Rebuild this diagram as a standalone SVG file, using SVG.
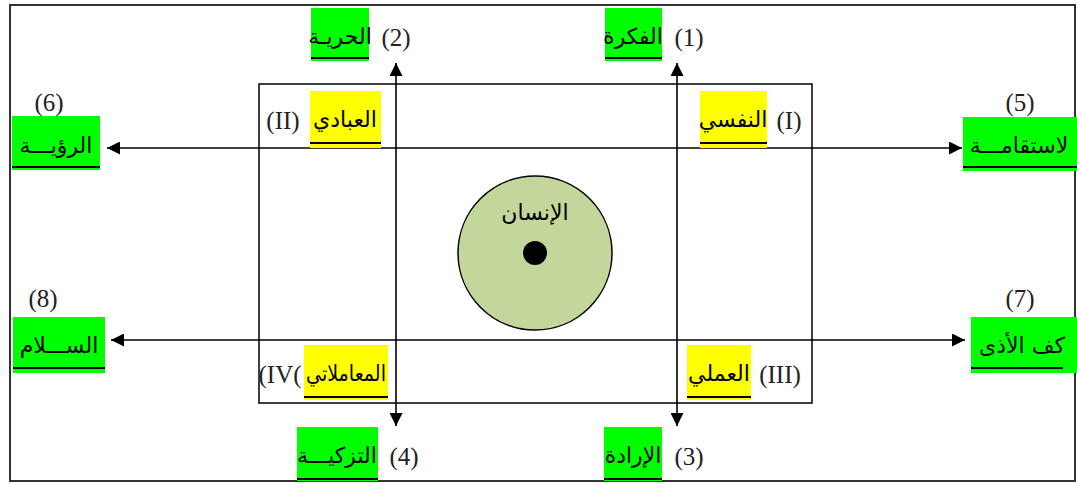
<svg xmlns="http://www.w3.org/2000/svg" width="1077" height="484" viewBox="0 0 1077 484">
  <style>
    .frame { fill: #ffffff; stroke: #333333; stroke-width: 2; }
    .inner { fill: none; stroke: #000000; stroke-width: 1.5; }
    .axis { stroke: #000000; stroke-width: 1.6; fill: none; }
    .green { fill: #00ff00; }
    .yellow { fill: #ffff00; }
    .ul { stroke: #000000; stroke-width: 2.2; }
    .ar { font-family: "DejaVu Sans", "Noto Sans", sans-serif; font-size: 22px; fill: #000000; text-anchor: middle; }
    .num { font-family: "Liberation Serif", serif; font-size: 25px; fill: #222222; text-anchor: middle; }
  </style>
  <defs>
    <marker id="head" viewBox="0 0 10 10" refX="10" refY="5" markerWidth="14" markerHeight="13" markerUnits="userSpaceOnUse" orient="auto-start-reverse">
      <path d="M0,0 L10,5 L0,10 Z" fill="#000000"/>
    </marker>
  </defs>

  <!-- outer frame -->
  <rect class="frame" x="10" y="5" width="1065" height="476"/>

  <!-- central quadrant box -->
  <rect id="quadrants" class="inner" x="259" y="84" width="553" height="319"/>

  <!-- centre: the human being -->
  <g id="center">
    <circle cx="535" cy="253" r="77" fill="#c3d69b" stroke="#000000" stroke-width="1.5"/>
    <circle cx="535" cy="253" r="12" fill="#000000"/>
    <text class="ar" x="535" y="220" font-size="23">الإنسان</text>
  </g>

  <!-- connectors -->
  <g id="connectors">
    <line class="axis" x1="396" y1="426" x2="396" y2="63" marker-start="url(#head)" marker-end="url(#head)"/>
    <line class="axis" x1="677" y1="426" x2="677" y2="63" marker-start="url(#head)" marker-end="url(#head)"/>
    <line class="axis" x1="107" y1="148" x2="962" y2="148" marker-start="url(#head)" marker-end="url(#head)"/>
    <line class="axis" x1="111" y1="340" x2="965" y2="340" marker-start="url(#head)" marker-end="url(#head)"/>
  </g>

  <!-- quadrant labels -->
  <g id="q1">
    <rect class="yellow" x="700" y="91" width="67" height="57"/>
    <text class="ar" x="733" y="127">النفسي</text>
    <line class="ul" x1="700" y1="143" x2="767" y2="143"/>
    <text class="num" x="789" y="129">(I)</text>
  </g>
  <g id="q2">
    <rect class="yellow" x="310" y="91" width="71" height="57"/>
    <text class="ar" x="345" y="127">العبادي</text>
    <line class="ul" x1="310" y1="143" x2="381" y2="143"/>
    <text class="num" x="283" y="129">(II)</text>
  </g>
  <g id="q3">
    <rect class="yellow" x="687" y="345" width="64" height="55"/>
    <text class="ar" x="719" y="381">العملي</text>
    <line class="ul" x1="687" y1="397" x2="751" y2="397"/>
    <text class="num" x="780" y="383">(III)</text>
  </g>
  <g id="q4">
    <rect class="yellow" x="304" y="345" width="84" height="55"/>
    <text class="ar" x="346" y="381" textLength="80" lengthAdjust="spacingAndGlyphs">المعاملاتي</text>
    <line class="ul" x1="304" y1="397" x2="388" y2="397"/>
    <text class="num" x="280" y="383">(IV(</text>
  </g>

  <!-- outer values -->
  <g id="v1">
    <rect class="green" x="605" y="8" width="57" height="53"/>
    <text class="ar" x="633" y="44">الفكرة</text>
    <line class="ul" x1="605" y1="58" x2="662" y2="58"/>
    <text class="num" x="689" y="46">(1)</text>
  </g>
  <g id="v2">
    <rect class="green" x="311" y="8" width="58" height="53"/>
    <text class="ar" x="340" y="44">الحريـة</text>
    <line class="ul" x1="311" y1="58" x2="369" y2="58"/>
    <text class="num" x="396" y="46">(2)</text>
  </g>
  <g id="v3">
    <rect class="green" x="604" y="427" width="58" height="54"/>
    <text class="ar" x="633" y="463">الإرادة</text>
    <line class="ul" x1="604" y1="479" x2="662" y2="479"/>
    <text class="num" x="689" y="465">(3)</text>
  </g>
  <g id="v4">
    <rect class="green" x="297" y="427" width="81" height="54"/>
    <text class="ar" x="337" y="463">التزكيـــة</text>
    <line class="ul" x1="297" y1="479" x2="378" y2="479"/>
    <text class="num" x="404" y="465">(4)</text>
  </g>
  <g id="v5">
    <rect class="green" x="963" y="117" width="114" height="54"/>
    <text class="ar" x="1019" y="153">لاستقامـــة</text>
    <line class="ul" x1="963" y1="167" x2="1077" y2="167"/>
    <text class="num" x="1020" y="111">(5)</text>
  </g>
  <g id="v6">
    <rect class="green" x="12" y="116" width="88" height="54"/>
    <text class="ar" x="56" y="153">الرؤيـــة</text>
    <line class="ul" x1="12" y1="167" x2="100" y2="167"/>
    <text class="num" x="49" y="111">(6)</text>
  </g>
  <g id="v7">
    <rect class="green" x="971" y="317" width="106" height="56"/>
    <text class="ar" x="1022" y="353">كف الأذى</text>
    <line class="ul" x1="971" y1="368" x2="1063" y2="368"/>
    <text class="num" x="1020" y="307">(7)</text>
  </g>
  <g id="v8">
    <rect class="green" x="13" y="317" width="92" height="56"/>
    <text class="ar" x="59" y="353">الســـلام</text>
    <line class="ul" x1="13" y1="368" x2="105" y2="368"/>
    <text class="num" x="43" y="307">(8)</text>
  </g>
</svg>
